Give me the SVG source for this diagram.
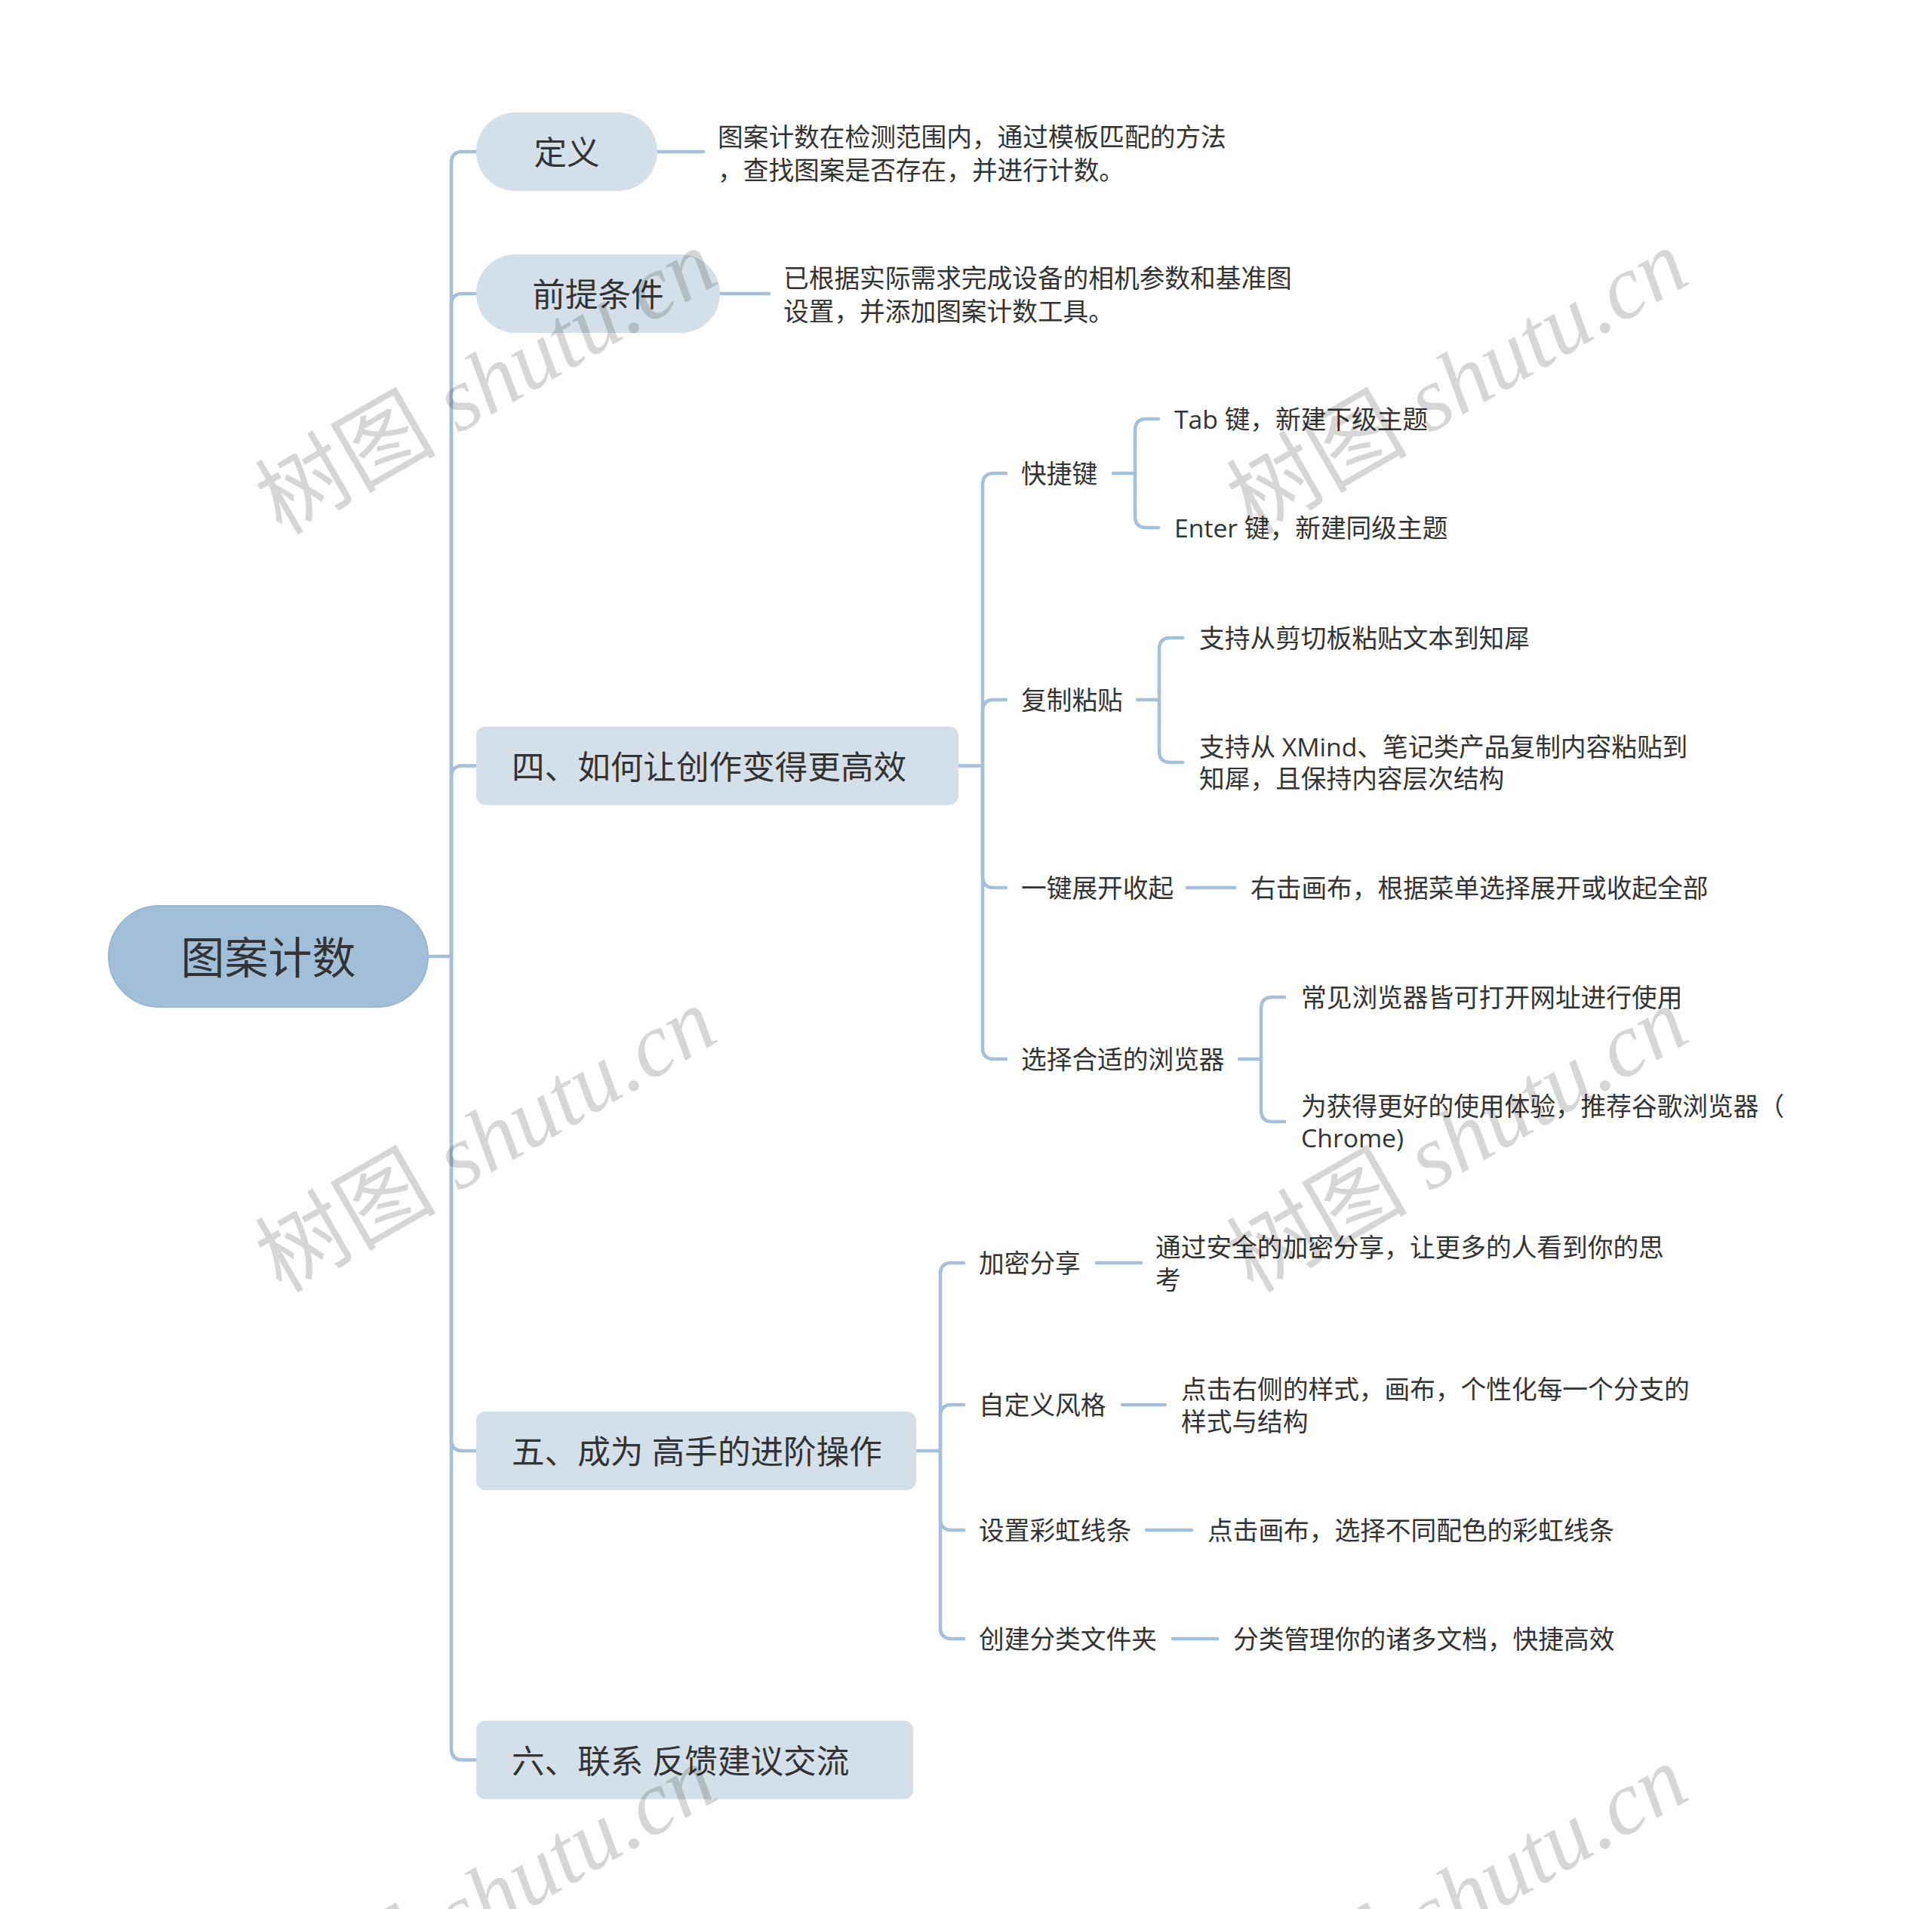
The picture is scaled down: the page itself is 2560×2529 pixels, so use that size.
<svg xmlns="http://www.w3.org/2000/svg" width="2560" height="2529" viewBox="0 0 2560 2529">
<style>
.conn{fill:none;stroke:#a5c0da;stroke-width:4.5;stroke-linecap:round;stroke-linejoin:round}
.t{font-family:"Open Sans","Noto Sans CJK SC",sans-serif;fill:#333;dominant-baseline:central}
.s34{font-size:33.7px}
.s44{font-size:43.6px}
.s58{font-size:58px}
.mid{text-anchor:middle}
.rootbox{fill:#a2bfd9;stroke:#97b6d3;stroke-width:2}
.n1{fill:#d4e0e9}
.wm{font-family:"Liberation Serif","Noto Sans CJK SC",serif;font-size:120px;fill:#000;fill-opacity:0.16}
</style>
<rect width="2560" height="2529" fill="#ffffff"/>

<g id="connectors">
  <path class="conn" d="M567,1267 H598"/>
  <path class="conn" d="M598,1267 V216 Q598,201 613,201 H631"/>
  <path class="conn" d="M598,1267 V404 Q598,389 613,389 H631"/>
  <path class="conn" d="M598,1267 V1029.5 Q598,1014.5 613,1014.5 H631"/>
  <path class="conn" d="M598,1267 V1907 Q598,1922 613,1922 H631"/>
  <path class="conn" d="M598,1267 V2316.5 Q598,2331.5 613,2331.5 H631"/>
  <path class="conn" d="M871,201 H932"/>
  <path class="conn" d="M954,389 H1019"/>
  <path class="conn" d="M1270,1014.5 H1302"/>
  <path class="conn" d="M1302,1014.5 V642 Q1302,627 1317,627 H1333"/>
  <path class="conn" d="M1302,1014.5 V942 Q1302,927 1317,927 H1333"/>
  <path class="conn" d="M1302,1014.5 V1161 Q1302,1176 1317,1176 H1333"/>
  <path class="conn" d="M1302,1014.5 V1388 Q1302,1403 1317,1403 H1333"/>
  <path class="conn" d="M1475,627 H1504"/>
  <path class="conn" d="M1504,627 V570 Q1504,555 1519,555 H1535"/>
  <path class="conn" d="M1504,627 V684 Q1504,699 1519,699 H1535"/>
  <path class="conn" d="M1507,927 H1536"/>
  <path class="conn" d="M1536,927 V860 Q1536,845 1551,845 H1567"/>
  <path class="conn" d="M1536,927 V995 Q1536,1010 1551,1010 H1567"/>
  <path class="conn" d="M1573,1176 H1636"/>
  <path class="conn" d="M1642,1403 H1671"/>
  <path class="conn" d="M1671,1403 V1336 Q1671,1321 1686,1321 H1702"/>
  <path class="conn" d="M1671,1403 V1471 Q1671,1486 1686,1486 H1702"/>
  <path class="conn" d="M1214,1922 H1246"/>
  <path class="conn" d="M1246,1922 V1688 Q1246,1673 1261,1673 H1277"/>
  <path class="conn" d="M1246,1922 V1876 Q1246,1861 1261,1861 H1277"/>
  <path class="conn" d="M1246,1922 V2012 Q1246,2027 1261,2027 H1277"/>
  <path class="conn" d="M1246,1922 V2156 Q1246,2171 1261,2171 H1277"/>
  <path class="conn" d="M1453,1673 H1512"/>
  <path class="conn" d="M1487,1861 H1544"/>
  <path class="conn" d="M1519,2027 H1579"/>
  <path class="conn" d="M1554,2171 H1613"/>
</g>

<g id="root">
  <rect class="rootbox" x="144" y="1200" width="423" height="134" rx="67"/>
  <text class="t s58 mid" x="355.5" y="1267">图案计数</text>
</g>

<g id="n-dingyi">
  <rect class="n1" x="631" y="149" width="240" height="104" rx="52"/>
  <text class="t s44 mid" x="751" y="201">定义</text>
</g>
<g id="n-dingyi-desc">
  <text class="t s34" x="951" y="181">图案计数在检测范围内，通过模板匹配的方法</text>
  <text class="t s34" x="951" y="225">，查找图案是否存在，并进行计数。</text>
</g>

<g id="n-qianti">
  <rect class="n1" x="631" y="337" width="323" height="104" rx="52"/>
  <text class="t s44 mid" x="792.5" y="389">前提条件</text>
</g>
<g id="n-qianti-desc">
  <text class="t s34" x="1038" y="368">已根据实际需求完成设备的相机参数和基准图</text>
  <text class="t s34" x="1038" y="412">设置，并添加图案计数工具。</text>
</g>

<g id="n-si">
  <rect class="n1" x="631" y="962.5" width="639" height="104" rx="12"/>
  <text class="t s44" x="678" y="1014.5">四、如何让创作变得更高效</text>
</g>
<g id="n-kuaijiejian"><text class="t s34" x="1353" y="627">快捷键</text></g>
<g id="n-tab"><text class="t s34" x="1556" y="555">Tab 键，新建下级主题</text></g>
<g id="n-enter"><text class="t s34" x="1556" y="699">Enter 键，新建同级主题</text></g>
<g id="n-fuzhi"><text class="t s34" x="1353" y="927">复制粘贴</text></g>
<g id="n-fuzhi-1"><text class="t s34" x="1589" y="845">支持从剪切板粘贴文本到知犀</text></g>
<g id="n-fuzhi-2">
  <text class="t s34" x="1589" y="989">支持从 XMind、笔记类产品复制内容粘贴到</text>
  <text class="t s34" x="1589" y="1031">知犀，且保持内容层次结构</text>
</g>
<g id="n-yijian"><text class="t s34" x="1353" y="1176">一键展开收起</text></g>
<g id="n-yijian-1"><text class="t s34" x="1657" y="1176">右击画布，根据菜单选择展开或收起全部</text></g>
<g id="n-liulanqi"><text class="t s34" x="1353" y="1403">选择合适的浏览器</text></g>
<g id="n-liulanqi-1"><text class="t s34" x="1724" y="1321">常见浏览器皆可打开网址进行使用</text></g>
<g id="n-liulanqi-2">
  <text class="t s34" x="1724" y="1465">为获得更好的使用体验，推荐谷歌浏览器（</text>
  <text class="t s34" x="1724" y="1507">Chrome)</text>
</g>

<g id="n-wu">
  <rect class="n1" x="631" y="1870" width="583" height="104" rx="12"/>
  <text class="t s44" x="678" y="1922">五、成为 高手的进阶操作</text>
</g>
<g id="n-jiami"><text class="t s34" x="1297" y="1673">加密分享</text></g>
<g id="n-jiami-1">
  <text class="t s34" x="1531" y="1652">通过安全的加密分享，让更多的人看到你的思</text>
  <text class="t s34" x="1531" y="1695">考</text>
</g>
<g id="n-zidingyi"><text class="t s34" x="1297" y="1861">自定义风格</text></g>
<g id="n-zidingyi-1">
  <text class="t s34" x="1565" y="1840">点击右侧的样式，画布，个性化每一个分支的</text>
  <text class="t s34" x="1565" y="1883">样式与结构</text>
</g>
<g id="n-caihong"><text class="t s34" x="1297" y="2027">设置彩虹线条</text></g>
<g id="n-caihong-1"><text class="t s34" x="1600" y="2027">点击画布，选择不同配色的彩虹线条</text></g>
<g id="n-wenjianjia"><text class="t s34" x="1297" y="2171">创建分类文件夹</text></g>
<g id="n-wenjianjia-1"><text class="t s34" x="1634" y="2171">分类管理你的诸多文档，快捷高效</text></g>

<g id="n-liu">
  <rect class="n1" x="631" y="2279.5" width="579" height="104" rx="12"/>
  <text class="t s44" x="678" y="2331.5">六、联系 反馈建议交流</text>
</g>

<g id="watermarks">
  <text class="wm" transform="translate(373,710) rotate(-30)">树图 <tspan font-style="italic">shutu.cn</tspan></text>
  <text class="wm" transform="translate(1660,710) rotate(-30)">树图 <tspan font-style="italic">shutu.cn</tspan></text>
  <text class="wm" transform="translate(373,1714) rotate(-30)">树图 <tspan font-style="italic">shutu.cn</tspan></text>
  <text class="wm" transform="translate(1660,1714) rotate(-30)">树图 <tspan font-style="italic">shutu.cn</tspan></text>
  <text class="wm" transform="translate(373,2718) rotate(-30)">树图 <tspan font-style="italic">shutu.cn</tspan></text>
  <text class="wm" transform="translate(1660,2718) rotate(-30)">树图 <tspan font-style="italic">shutu.cn</tspan></text>
</g>
</svg>
